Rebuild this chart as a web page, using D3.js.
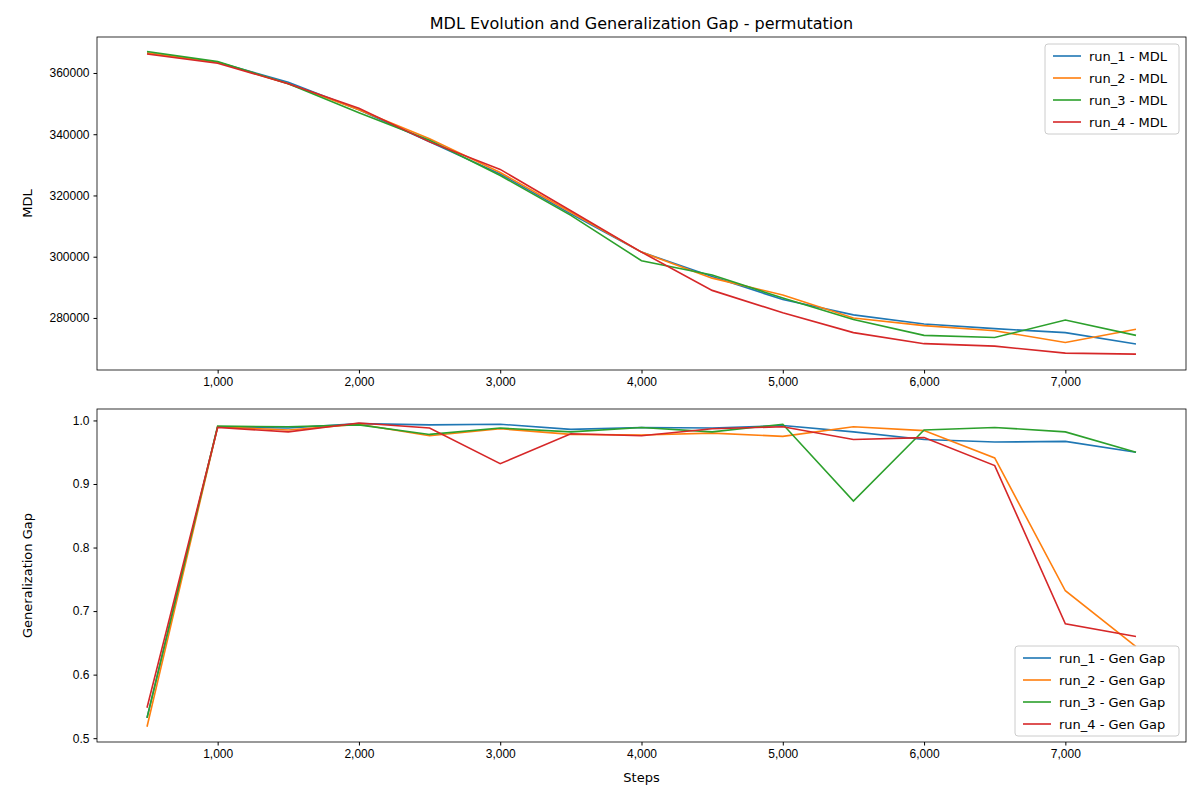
<!DOCTYPE html>
<html><head><meta charset="utf-8">
<script src="https://cdn.jsdelivr.net/npm/d3@7"></script>
<style>
body{margin:0;background:#fff;font-family:"DejaVu Sans",sans-serif;}
</style></head>
<body><svg id="chart" width="1200" height="800"></svg>
<script>
const steps = [500,1000,1500,2000,2500,3000,3500,4000,4500,5000,5500,6000,6500,7000,7500];
const runs = ['run_1','run_2','run_3','run_4'];
const colors = ['#1f77b4','#ff7f0e','#2ca02c','#d62728'];

const mdl_run1 = [366500,363500,357000,348000,337500,327000,314000,301500,293500,286000,281000,278000,276500,275200,271500];
const mdl_run2 = [366500,363500,356500,348000,338500,327500,314500,301500,293000,287500,280000,277500,275800,272000,276300];
const mdl_run3 = [367000,363700,356500,347000,338000,326500,313500,298700,294000,286500,279500,274300,273600,279300,274300];
const mdl_run4 = [366200,363200,356500,348500,337500,328500,315000,301500,289000,281700,275200,271600,270800,268500,268200];

const gap_run1 = [0.532,0.990,0.988,0.995,0.993,0.994,0.986,0.989,0.988,0.992,0.982,0.970,0.966,0.967,0.950];
const gap_run2 = [0.518,0.990,0.985,0.994,0.976,0.987,0.978,0.977,0.980,0.975,0.990,0.984,0.941,0.732,0.644];
const gap_run3 = [0.532,0.991,0.990,0.993,0.978,0.988,0.982,0.989,0.982,0.994,0.873,0.985,0.989,0.982,0.950];
const gap_run4 = [0.548,0.989,0.982,0.996,0.988,0.932,0.979,0.976,0.987,0.990,0.970,0.973,0.929,0.680,0.660];

const mdlSeries = [mdl_run1, mdl_run2, mdl_run3, mdl_run4];
const gapSeries = [gap_run1, gap_run2, gap_run3, gap_run4];

const svg = d3.select('#chart');
const left = 97, right = 1186;
const x = d3.scaleLinear().domain([146, 7854]).range([left, right]);

svg.append('text').attr('x', (left+right)/2).attr('y', 29)
  .attr('text-anchor','middle').attr('font-size',16).text('MDL Evolution and Generalization Gap - permutation');

function panel(top, bottom, yDomain, yTicks, fmt, series, ylabel, suffix, legendPos, showX) {
  const y = d3.scaleLinear().domain(yDomain).range([bottom, top]);
  const g = svg.append('g');
  g.append('g').attr('transform',`translate(0,${bottom})`)
    .call(d3.axisBottom(x).tickValues([1000,2000,3000,4000,5000,6000,7000]).tickSizeOuter(0).tickSize(3.5).tickPadding(4))
    .call(a => a.selectAll('text').attr('font-size',12).attr('fill','#000'));
  g.append('g').attr('transform',`translate(${left},0)`)
    .call(d3.axisLeft(y).tickValues(yTicks).tickFormat(fmt).tickSizeOuter(0).tickSize(3.5).tickPadding(4))
    .call(a => a.selectAll('text').attr('font-size',12).attr('fill','#000'));
  g.selectAll('.domain').remove();
  const line = d3.line().x((d,i) => x(steps[i])).y(d => y(d));
  series.forEach((s,k) => {
    g.append('path').datum(s).attr('d', line).attr('fill','none')
      .attr('stroke', colors[k]).attr('stroke-width',1.6);
  });
  g.append('rect').attr('x',left).attr('y',top).attr('width',right-left).attr('height',bottom-top)
    .attr('fill','none').attr('stroke','#000').attr('stroke-width',0.8);
  const midY = (top+bottom)/2;
  g.append('text').attr('transform',`translate(${left-70},${midY}) rotate(-90)`)
    .attr('text-anchor','middle').attr('font-size',13).attr('dy','0.35em').text(ylabel);
  // legend
  const lw = legendPos.w, lh = 90;
  const lg = g.append('g').attr('transform',`translate(${legendPos.x},${legendPos.y})`);
  lg.append('rect').attr('width',lw).attr('height',lh).attr('rx',3)
    .attr('fill','#fff').attr('fill-opacity',0.8).attr('stroke','#ccc');
  runs.forEach((r,k) => {
    const yy = 12 + k*22;
    lg.append('line').attr('x1',8).attr('x2',36).attr('y1',yy).attr('y2',yy)
      .attr('stroke',colors[k]).attr('stroke-width',1.6);
    lg.append('text').attr('x',44).attr('y',yy).attr('dy','0.35em').attr('font-size',13)
      .text(`${r} - ${suffix}`);
  });
  if (showX) {
    svg.append('text').attr('x',(left+right)/2).attr('y',782).attr('text-anchor','middle')
      .attr('font-size',13).text('Steps');
  }
}

panel(37, 370, [263000, 371750], [280000,300000,320000,340000,360000], d3.format('d'),
  mdlSeries, 'MDL', 'MDL', {x:1045, y:44, w:134}, false);
panel(409, 742, [0.494, 1.018], [0.5,0.6,0.7,0.8,0.9,1.0], d3.format('.1f'),
  gapSeries, 'Generalization Gap', 'Gen Gap', {x:1015, y:646, w:164}, true);
</script>
</body></html>
